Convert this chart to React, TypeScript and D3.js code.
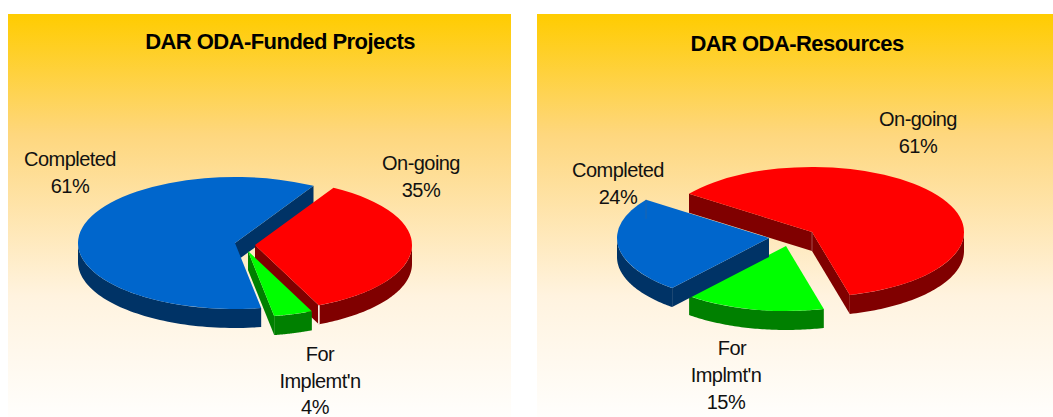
import React from "react";
import * as d3 from "d3";

const W = 1053;
const H = 417;

// chart values
const fundedLabels = ["On-going", "For Implemt'n", "Completed"];
const fundedValues = [35, 4, 61];
const resourceLabels = ["On-going", "For Implmt'n", "Completed"];
const resourceValues = [61, 15, 24];
const sliceColors = ["#ff0000", "#00ff00", "#0066cc"];
const wallColors = ["#800000", "#008000", "#003366"];

const deg = Math.PI / 180;
const depth = 19;

const arcGen = d3.arc<d3.PieArcDatum<number>>().innerRadius(0);
const lineGen = d3.line();

function Pie3D({ values, start, rx, ry, centers, order, seams }: any) {
  const pie = d3.pie<number>().sort(null).startAngle(start * deg).endAngle(start * deg + 2 * Math.PI);
  const arcs = pie(values);

  // rim of a slice, only the part that faces the viewer
  const rim = (a0: number, a1: number, c: number[]) => {
    const parts: [number, number][][] = [];
    for (const k of [0, 2]) {
      const lo = Math.max(a0, (90 + 360 * k / 2) * deg);
      const hi = Math.min(a1, (270 + 360 * k / 2) * deg);
      if (hi > lo) {
        const n = 60;
        parts.push(d3.range(n + 1).map((i) => {
          const a = lo + ((hi - lo) * i) / n;
          return [c[0] + rx * Math.sin(a), c[1] - ry * Math.cos(a)] as [number, number];
        }));
      }
    }
    return parts;
  };
  const area = d3.area<[number, number]>().x((d) => d[0]).y0((d) => d[1]).y1((d) => d[1] + depth);

  const cutFace = (a: number, c: number[]) => {
    const x = c[0] + rx * Math.sin(a);
    const y = c[1] - ry * Math.cos(a);
    return lineGen([
      [c[0], c[1]],
      [x, y],
      [x, y + depth],
      [c[0], c[1] + depth],
    ]) + "Z";
  };

  return (
    <g>
      {order.map((i: number) => {
        const d = arcs[i];
        const c = centers[i];
        return (
          <g key={i}>
            {rim(d.startAngle, d.endAngle, c).map((pts, j) => (
              <path key={j} d={area(pts) as string} fill={wallColors[i]} />
            ))}
            {Math.sin(d.startAngle) < 0 && <path d={cutFace(d.startAngle, c)} fill={wallColors[i]} />}
            {Math.sin(d.endAngle) > 0 && <path d={cutFace(d.endAngle, c)} fill={wallColors[i]} />}
            <g transform={`translate(${c[0]},${c[1]}) scale(1,${ry / rx})`}>
              <path d={arcGen.outerRadius(rx)(d) as string} fill={sliceColors[i]} />
            </g>
            {/* pale line where two wall faces meet */}
            {seams && seams[i] && (() => {
              const x = seams[i].atApex ? c[0] : c[0] + rx * Math.sin(d.endAngle);
              const y = seams[i].atApex ? c[1] : c[1] - ry * Math.cos(d.endAngle);
              return <line x1={x} x2={x} y1={y} y2={y + depth} stroke={seams[i].color} strokeWidth={seams[i].width} />;
            })()}
          </g>
        );
      })}
    </g>
  );
}

function Label({ x, lines }: { x: number[]; lines: [string, number][] }) {
  return (
    <text fontFamily="'Liberation Sans', Arial, sans-serif" fontSize={20} letterSpacing={-0.55} fill="#111" textAnchor="middle">
      {lines.map(([t, y], i) => (
        <tspan key={i} x={x[i]} y={y}>{t}</tspan>
      ))}
    </text>
  );
}

export default function App() {
  const title = { fontFamily: "'Liberation Sans', Arial, sans-serif", fontSize: 22, fontWeight: 700, textAnchor: "middle" as const, fill: "#000" };
  return (
    <svg width={W} height={H} style={{ position: "absolute", left: 0, top: 0 }}>
      <defs>
        <linearGradient id="bg" x1="0" y1="0" x2="0" y2="1">
          <stop offset="0" stopColor="#ffcc00" />
          <stop offset="0.3" stopColor="#fed77e" />
          <stop offset="0.7" stopColor="#fff3df" />
          <stop offset="1" stopColor="#fffefc" />
        </linearGradient>
      </defs>
      <rect x={8} y={14} width={503} height={403} fill="url(#bg)" />
      <rect x={537} y={14} width={516} height={403} fill="url(#bg)" />

      <text x={280} y={49} {...title} letterSpacing={-0.55}>DAR ODA-Funded Projects</text>
      <text x={797} y={51} {...title} letterSpacing={-0.55}>DAR ODA-Resources</text>

      <Pie3D
        values={fundedValues}
        start={30}
        rx={157}
        ry={66}
        centers={[[255, 245], [248, 251], [235, 243]]}
        order={[2, 0, 1]}
        seams={{ 0: { color: "#fff4ec", width: 1.6 } }}
      />
      <Pie3D
        values={resourceValues}
        start={306}
        rx={152}
        ry={65}
        centers={[[812, 232], [786, 246], [769, 238]]}
        order={[0, 1, 2]}
        seams={{ 0: { color: "#b06060", width: 0.8, atApex: true }, 2: { color: "#336699", width: 0.6 } }}
      />

      <Label x={[70, 70]} lines={[[fundedLabels[2], 166], [fundedValues[2] + "%", 193]]} />
      <Label x={[421, 421]} lines={[[fundedLabels[0], 170], [fundedValues[0] + "%", 197]]} />
      <Label x={[320, 320, 315]} lines={[["For", 361], ["Implemt'n", 388], [fundedValues[1] + "%", 414]]} />

      <Label x={[918, 918]} lines={[[resourceLabels[0], 126], [resourceValues[0] + "%", 153]]} />
      <Label x={[618, 618]} lines={[[resourceLabels[2], 177], [resourceValues[2] + "%", 204]]} />
      <Label x={[732, 726, 726]} lines={[["For", 355], ["Implmt'n", 382], [resourceValues[1] + "%", 409]]} />
    </svg>
  );
}
